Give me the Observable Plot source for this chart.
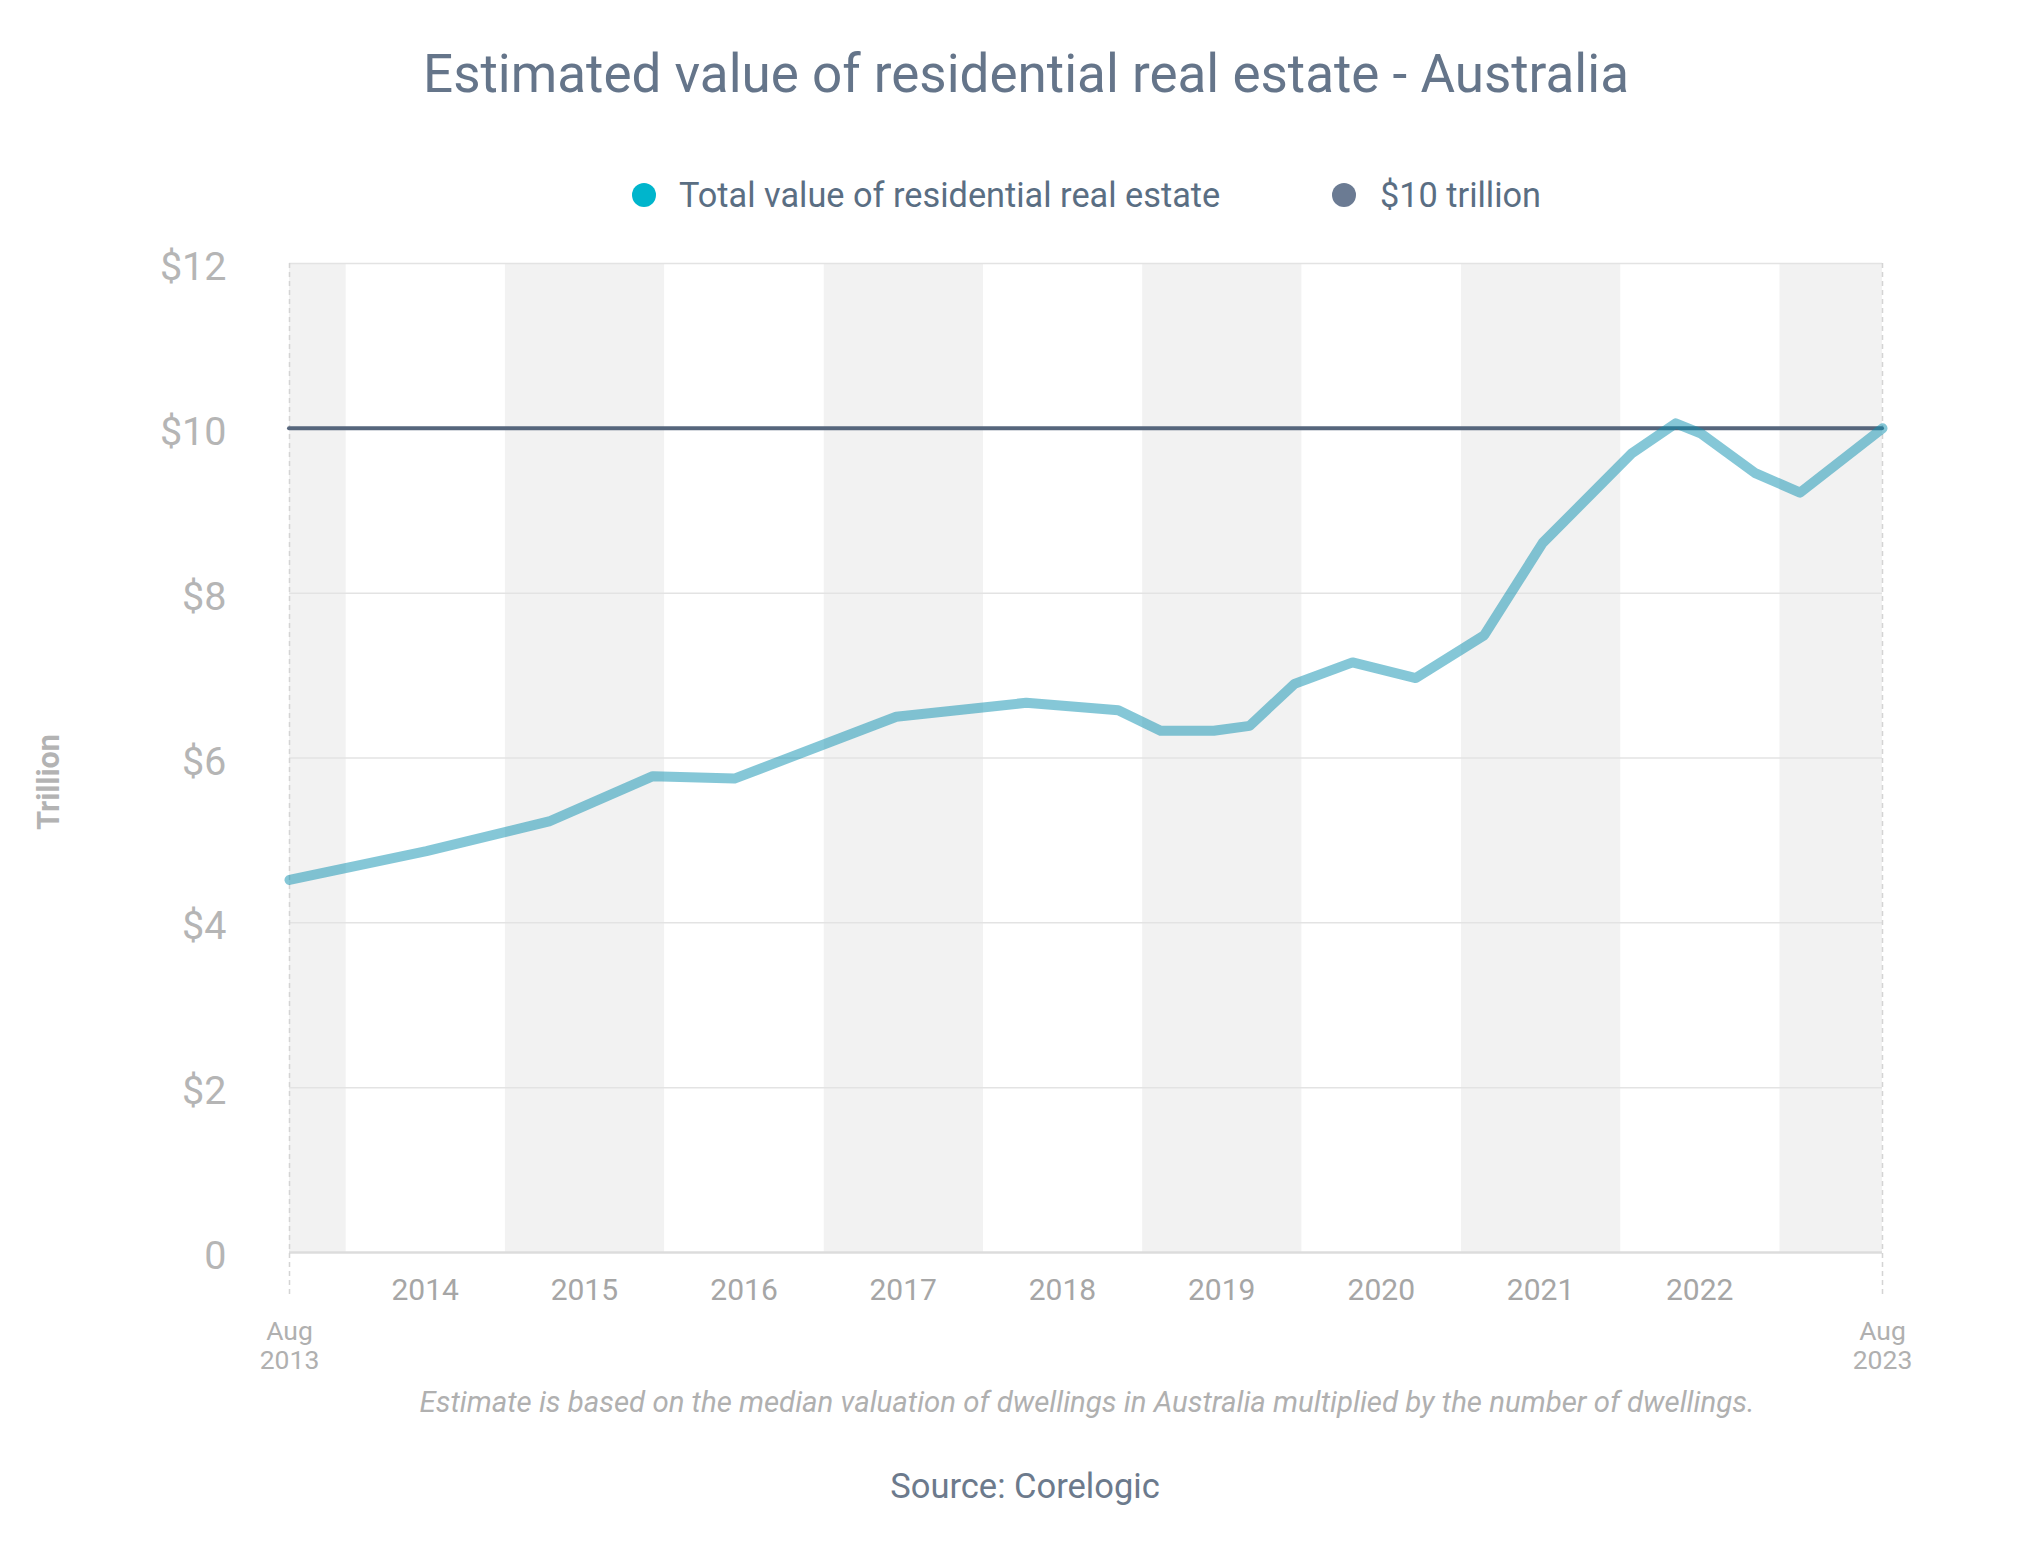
<!DOCTYPE html>
<html>
<head>
<meta charset="utf-8">
<script src="https://cdn.jsdelivr.net/npm/d3@7"></script>
<script src="https://cdn.jsdelivr.net/npm/@observablehq/plot@0.6"></script>
<style>
  html, body { margin: 0; padding: 0; background: #fff; }
  body { font-family: Roboto, "Noto Sans", sans-serif; }
  #wrap { position: relative; width: 2018px; height: 1560px; overflow: hidden; }
  .abs { position: absolute; white-space: nowrap; line-height: 1; }
  #title { left: 39px; width: 1974px; top: 48px; text-align: center; font-size: 53px; color: #65758a; }
  .dot { position: absolute; width: 24px; height: 24px; border-radius: 50%; }
  .leg { font-size: 34.3px; color: #5a6e83; top: 178px; }
  #ylab { left: 49px; top: 782px; font-size: 30.5px; font-weight: 700; color: #b3b3b3; transform: translate(-50%, -50%) rotate(-90deg); }
  #caption { left: 205px; width: 1764px; top: 1388px; text-align: center; font-size: 29.4px; font-style: italic; color: #b0b0b0; }
  #source { left: 38px; width: 1974px; top: 1469px; text-align: center; font-size: 34.5px; color: #6c7a8c; }
  #chart { position: absolute; left: 0; top: 230px; }
</style>
</head>
<body>
<div id="wrap">
  <div id="title" class="abs"></div>
  <div id="legend"></div>
  <div id="ylab" class="abs"></div>
  <div id="chart"></div>
  <div id="caption" class="abs"></div>
  <div id="source" class="abs"></div>
</div>
<script>
// ---- data ----
const titleText = "Estimated value of residential real estate - Australia";
const seriesNames = ["Total value of residential real estate", "$10 trillion"];
const seriesColors = ["#00b5cc", "#6b7b93"];
const dates = ["2013-08-24", "2014-07-04", "2015-04-11", "2015-12-05", "2016-06-09", "2017-06-15",
  "2018-04-09", "2018-11-06", "2019-02-11", "2019-06-13", "2019-09-03", "2019-12-15",
  "2020-04-26", "2020-09-18", "2021-02-22", "2021-07-06", "2022-01-27", "2022-05-07",
  "2022-07-03", "2022-11-04", "2023-02-16", "2023-08-24"];
const values = [4.52, 4.87, 5.23, 5.78, 5.75, 6.50, 6.67, 6.58, 6.33, 6.33, 6.39, 6.90,
  7.16, 6.97, 7.49, 8.61, 9.70, 10.06, 9.94, 9.46, 9.22, 10.0];
const thresholdValue = [10];
const yTicks = [0, 2, 4, 6, 8, 10, 12];
const yearLabels = [2014, 2015, 2016, 2017, 2018, 2019, 2020, 2021, 2022];
const endLabels = [["2013-08-24", "Aug\n2013"], ["2023-08-24", "Aug\n2023"]];
const shadedYears = [["2013-08-24", "2014-01-01"], ["2015-01-01", "2016-01-01"], ["2017-01-01", "2018-01-01"],
  ["2019-01-01", "2020-01-01"], ["2021-01-01", "2022-01-01"], ["2023-01-01", "2023-08-24"]];
const yLabel = "Trillion";
const captionText = "Estimate is based on the median valuation of dwellings in Australia multiplied by the number of dwellings.";
const sourceText = "Source: Corelogic";

// ---- build ----
const parse = s => new Date(s + "T00:00:00Z");
const data = dates.map((d, i) => ({date: parse(d), value: values[i]}));
const bands = shadedYears.map(([a, b]) => ({x1: parse(a), x2: parse(b)}));
const ends = endLabels.map(([d, t]) => ({date: parse(d), label: t}));
const years = yearLabels.map(y => ({date: new Date(Date.UTC(y, 6, 1)), label: String(y)}));
const domain = [parse(dates[0]), parse(dates[dates.length - 1])];

document.getElementById("title").textContent = titleText;
document.getElementById("ylab").textContent = yLabel;
document.getElementById("caption").textContent = captionText;
document.getElementById("source").textContent = sourceText;

const legend = document.getElementById("legend");
const legPos = [[632, 679], [1332, 1380]];
seriesNames.forEach((name, i) => {
  const dot = document.createElement("div");
  dot.className = "dot";
  dot.style.left = legPos[i][0] + "px";
  dot.style.top = "183px";
  dot.style.background = seriesColors[i];
  legend.appendChild(dot);
  const t = document.createElement("div");
  t.className = "abs leg";
  t.style.left = legPos[i][1] + "px";
  t.textContent = name;
  legend.appendChild(t);
});

const plot = Plot.plot({
  width: 2018,
  height: 1170,
  marginLeft: 289,
  marginRight: 136,
  marginTop: 33,
  marginBottom: 148,
  style: {fontFamily: "Roboto, sans-serif", background: "transparent"},
  x: {type: "utc", domain, axis: null},
  y: {domain: [0, 12], axis: null},
  marks: [
    Plot.rect(bands, {x1: "x1", x2: "x2", fill: "#f2f2f2"}),
    Plot.gridY(yTicks.filter(d => d > 0), {stroke: "#e3e3e3", strokeOpacity: 1, strokeWidth: 1.5}),
    Plot.ruleY([0], {stroke: "#dcdcdc", strokeWidth: 2.5}),
    Plot.ruleX(domain, {stroke: "#d4d4d4", strokeWidth: 1.5, strokeDasharray: "5,4", insetBottom: -45}),
    Plot.axisY(yTicks, {tickSize: 0, tickPadding: 63, fontSize: 39.5, fill: "#b5b5b5", dy: 4, label: null,
      tickFormat: d => d === 0 ? "0" : "$" + d}),
    Plot.text(years, {x: "date", text: "label", frameAnchor: "bottom", dy: 47, fontSize: 30, fill: "#a6a6a6"}),
    Plot.text(ends, {x: "date", text: "label", frameAnchor: "bottom", dy: 116, lineHeight: 1.06, fontSize: 26.5, fill: "#b0b0b0"}),
    Plot.ruleY(thresholdValue, {stroke: "#56667c", strokeWidth: 4, strokeLinecap: "round"}),
    Plot.line(data, {x: "date", y: "value", stroke: "#0b8fb0", strokeOpacity: 0.5, strokeWidth: 10,
      strokeLinejoin: "round", strokeLinecap: "round"})
  ]
});
document.getElementById("chart").appendChild(plot);
</script>
</body>
</html>
